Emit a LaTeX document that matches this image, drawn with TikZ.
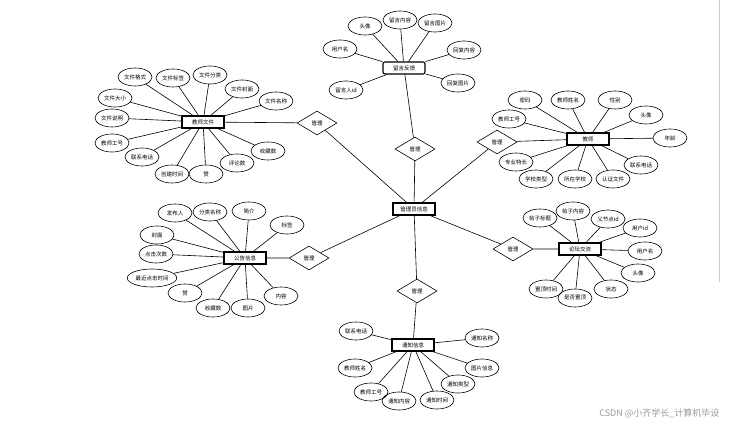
\documentclass[tikz,border=0pt]{standalone}
\usepackage{fontspec}
\usepackage{tikz}
\usetikzlibrary{shapes.geometric}
\newfontfamily\cjk{Noto Sans CJK SC}

\begin{document}
\begin{tikzpicture}[x=1pt,y=-1pt,line width=0.6pt,
    font=\cjk\fontsize{5.5}{6}\selectfont,
    entity/.style={draw,line width=1.1pt,minimum width=42pt,minimum height=12pt,inner sep=1pt},
    attr/.style={draw,ellipse,minimum width=34pt,minimum height=18pt,inner sep=1pt},
    rel/.style={draw,diamond,minimum width=40pt,minimum height=24pt,inner sep=0pt}]
    \useasboundingbox (0,0) rectangle (733,427);

    % centre
    \node[entity] (gly) at (414,209) {管理员信息};

    \node[rel] (r1) at (317,123) {管理};
    \node[rel] (r2) at (415,149) {管理};
    \node[rel] (r3) at (497,142) {管理};
    \node[rel] (r4) at (309,258) {管理};
    \node[rel] (r5) at (513,249) {管理};
    \node[rel] (r6) at (417,291) {管理};

    % 留言反馈
    \node[entity,rounded corners=2pt] (ly) at (404,68) {留言反馈};
    \node[attr] (ly1) at (365,26) {头像};
    \node[attr] (ly2) at (400,20) {留言内容};
    \node[attr] (ly3) at (435,23) {留言图片};
    \node[attr] (ly4) at (340,49) {用户名};
    \node[attr] (ly5) at (464,50) {回复内容};
    \node[attr] (ly6) at (458,83) {回复图片};
    \node[attr] (ly7) at (346,90) {留言人id};
    \draw (ly) -- (ly1) (ly) -- (ly2) (ly) -- (ly3) (ly) -- (ly4)
          (ly) -- (ly5) (ly) -- (ly6) (ly) -- (ly7);

    % 教师文件
    \node[entity] (wj) at (203,122) {教师文件};
    \node[attr] (wj1) at (135,77) {文件格式};
    \node[attr] (wj2) at (173,78) {文件标签};
    \node[attr] (wj3) at (210,75) {文件分类};
    \node[attr] (wj4) at (242,89) {文件封面};
    \node[attr] (wj5) at (276,101) {文件名称};
    \node[attr] (wj6) at (115,98) {文件大小};
    \node[attr] (wj7) at (112,118) {文件说明};
    \node[attr] (wj8) at (112,143) {教师工号};
    \node[attr] (wj9) at (142,157) {联系电话};
    \node[attr] (wj10) at (172,174) {创建时间};
    \node[attr] (wj11) at (206,174) {赞};
    \node[attr] (wj12) at (237,163) {评论数};
    \node[attr] (wj13) at (268,151) {收藏数};
    \draw (wj) -- (wj1) (wj) -- (wj2) (wj) -- (wj3) (wj) -- (wj4)
          (wj) -- (wj5) (wj) -- (wj6) (wj) -- (wj7) (wj) -- (wj8)
          (wj) -- (wj9) (wj) -- (wj10) (wj) -- (wj11) (wj) -- (wj12)
          (wj) -- (wj13);

    % 教师
    \node[entity] (js) at (588,139) {教师};
    \node[attr] (js1) at (525,100) {密码};
    \node[attr] (js2) at (568,100) {教师姓名};
    \node[attr] (js3) at (615,100) {性别};
    \node[attr] (js4) at (646,115) {头像};
    \node[attr] (js5) at (670,138) {年龄};
    \node[attr] (js6) at (641,165) {联系电话};
    \node[attr] (js7) at (613,179) {认证文件};
    \node[attr] (js8) at (575,179) {所在学校};
    \node[attr] (js9) at (536,179) {学校类型};
    \node[attr] (js10) at (516,162) {专业特长};
    \node[attr] (js11) at (509,119) {教师工号};
    \draw (js) -- (js1) (js) -- (js2) (js) -- (js3) (js) -- (js4)
          (js) -- (js5) (js) -- (js6) (js) -- (js7) (js) -- (js8)
          (js) -- (js9) (js) -- (js10) (js) -- (js11);

    % 公告信息
    \node[entity] (gg) at (245,258) {公告信息};
    \node[attr] (gg1) at (175,213) {发布人};
    \node[attr] (gg2) at (210,212) {分类名称};
    \node[attr] (gg3) at (249,211) {简介};
    \node[attr] (gg4) at (287,225) {标签};
    \node[attr] (gg5) at (157,235) {封面};
    \node[attr] (gg6) at (156,254) {点击次数};
    \node[attr] (gg7) at (152,278) {最近点击时间};
    \node[attr] (gg8) at (185,293) {赞};
    \node[attr] (gg9) at (213,308) {收藏数};
    \node[attr] (gg10) at (248,308) {图片};
    \node[attr] (gg11) at (281,296) {内容};
    \draw (gg) -- (gg1) (gg) -- (gg2) (gg) -- (gg3) (gg) -- (gg4)
          (gg) -- (gg5) (gg) -- (gg6) (gg) -- (gg7) (gg) -- (gg8)
          (gg) -- (gg9) (gg) -- (gg10) (gg) -- (gg11);

    % 论坛交流
    \node[entity] (lt) at (580,249) {论坛交流};
    \node[attr] (lt1) at (540,218) {帖子标题};
    \node[attr] (lt2) at (573,211) {帖子内容};
    \node[attr] (lt3) at (608,219) {父节点id};
    \node[attr] (lt4) at (640,228) {用户id};
    \node[attr] (lt5) at (645,251) {用户名};
    \node[attr] (lt6) at (638,273) {头像};
    \node[attr] (lt7) at (611,289) {状态};
    \node[attr] (lt8) at (575,298) {是否置顶};
    \node[attr] (lt9) at (546,289) {置顶时间};
    \draw (lt) -- (lt1) (lt) -- (lt2) (lt) -- (lt3) (lt) -- (lt4)
          (lt) -- (lt5) (lt) -- (lt6) (lt) -- (lt7) (lt) -- (lt8)
          (lt) -- (lt9);

    % 通知信息
    \node[entity] (tz) at (413,345) {通知信息};
    \node[attr] (tz1) at (356,331) {联系电话};
    \node[attr] (tz2) at (355,368) {教师姓名};
    \node[attr] (tz3) at (371,392) {教师工号};
    \node[attr] (tz4) at (399,401) {通知内容};
    \node[attr] (tz5) at (437,400) {通知时间};
    \node[attr] (tz6) at (458,384) {通知类型};
    \node[attr] (tz7) at (482,368) {图片信息};
    \node[attr] (tz8) at (482,338) {通知名称};
    \draw (tz) -- (tz1) (tz) -- (tz2) (tz) -- (tz3) (tz) -- (tz4)
          (tz) -- (tz5) (tz) -- (tz6) (tz) -- (tz7) (tz) -- (tz8);

    % relations
    \draw (wj) -- (r1) -- (gly);
    \draw (ly) -- (r2) -- (gly);
    \draw (js) -- (r3) -- (gly);
    \draw (gg) -- (r4) -- (gly);
    \draw (lt) -- (r5) -- (gly);
    \draw (tz) -- (r6) -- (gly);

    \draw[gray!40,line width=0.5pt] (719,0) -- (719,282);
    \node[anchor=east,text=gray!80,font=\cjk\fontsize{9}{10}\selectfont] (wm) at (723,413) {CSDN @小齐学长\_计算机毕设};
\end{tikzpicture}
\end{document}
